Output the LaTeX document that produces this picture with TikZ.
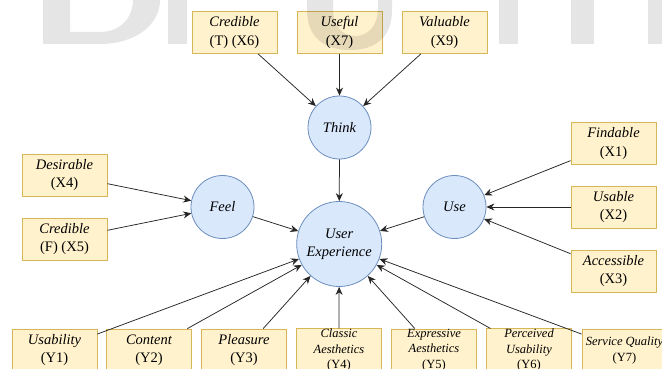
\documentclass[tikz,border=0pt]{standalone}
\usepackage{fontspec}
\setmainfont{Liberation Serif}
\usetikzlibrary{arrows.meta}
\definecolor{boxfill}{HTML}{FFF2CC}
\definecolor{boxline}{HTML}{D6B656}
\definecolor{circfill}{HTML}{DAE8FC}
\definecolor{circline}{HTML}{6C8EBF}
\begin{document}
\begin{tikzpicture}[x=1pt,y=-1pt,
  box/.style={draw=boxline, fill=boxfill, line width=0.8pt, minimum width=85pt, minimum height=42pt, inner sep=0pt, align=center, font=\fontsize{14.5}{18.5}\selectfont},
  sbox/.style={box, font=\fontsize{12.5}{15.5}\selectfont},
  circ/.style={circle, draw=circline, fill=circfill, line width=0.8pt, minimum size=63pt, inner sep=0pt, align=center, font=\fontsize{14.5}{18.3}\selectfont\itshape},
  uxc/.style={circ, minimum size=85pt},
  arr/.style={-{Stealth[length=8pt,width=7pt]}, draw=black!85, line width=0.75pt},
  wm/.style={fill=black, opacity=0.1}
]
\useasboundingbox (0,0) rectangle (662,369);
\fill[white] (0,0) rectangle (662,369);

% circles
\node[circ] (think) at (339.5,127.5) {Think};
\node[circ] (feel) at (222.5,207) {Feel};
\node[circ] (use) at (454.5,207) {Use};
\node[uxc] (ux) at (339.2,244) {User\\Experience};

% top boxes
\node[box] (x6) at (234.5,32.5) {{\itshape Credible}\\(T) (X6)};
\node[box] (x7) at (339.5,32.5) {{\itshape Useful}\\(X7)};
\node[box] (x9) at (444.5,32.5) {{\itshape Valuable}\\(X9)};

% left boxes
\node[box] (x4) at (64.5,175) {{\itshape Desirable}\\(X4)};
\node[box] (x5) at (64.5,239) {{\itshape Credible}\\(F) (X5)};

% right boxes
\node[box] (x1) at (613.5,143.5) {{\itshape Findable}\\(X1)};
\node[box] (x2) at (613.5,207) {{\itshape Usable}\\(X2)};
\node[box] (x3) at (613.5,271) {{\itshape Accessible}\\(X3)};

% bottom boxes
\node[box] (y1) at (54.5,350) {{\itshape Usability}\\(Y1)};
\node[box] (y2) at (149,350) {{\itshape Content}\\(Y2)};
\node[box] (y3) at (244,350) {{\itshape Pleasure}\\(Y3)};
\node[sbox] (y4) at (339,350) {{\itshape Classic}\\{\itshape Aesthetics}\\(Y4)};
\node[sbox] (y5) at (434,350) {{\itshape Expressive}\\{\itshape Aesthetics}\\(Y5)};
\node[sbox] (y6) at (529,350) {{\itshape Perceived}\\{\itshape Usability}\\(Y6)};
\node[sbox, font=\fontsize{12.5}{16}\selectfont] (y7) at (624.5,350) {{\itshape Service Quality}\\(Y7)};

% connectors
\foreach \s in {x6,x7,x9} \draw[arr] (\s) -- (think);
\foreach \s in {x4,x5} \draw[arr] (\s) -- (feel);
\foreach \s in {x1,x2,x3} \draw[arr] (\s) -- (use);
\foreach \s in {think,feel,use,y1,y2,y3,y4,y5,y6,y7} \draw[arr] (\s) -- (ux);

% faint watermark remnants at the top
\fill[wm] (43,0) -- (43,44) -- (100,44) .. controls (135,44) and (160,25) .. (160,0) -- (133,0) .. controls (133,18) and (120,32) .. (100,32) -- (70,32) -- (70,0) -- cycle;
\fill[wm] (168,0) rectangle (187,44);
\fill[wm] (307,0) -- (307,10) .. controls (307,38) and (325,50) .. (350,50) .. controls (375,50) and (392,38) .. (392,10) -- (392,0) -- (378,0) -- (378,8) .. controls (378,26) and (368,36) .. (355,36) .. controls (342,36) and (333,26) .. (333,8) -- (333,0) -- cycle;
\fill[wm] (499,0) rectangle (518,44);
\fill[wm] (571,0) rectangle (594,44);
\fill[wm] (648,0) rectangle (662,44);
\end{tikzpicture}
\end{document}
